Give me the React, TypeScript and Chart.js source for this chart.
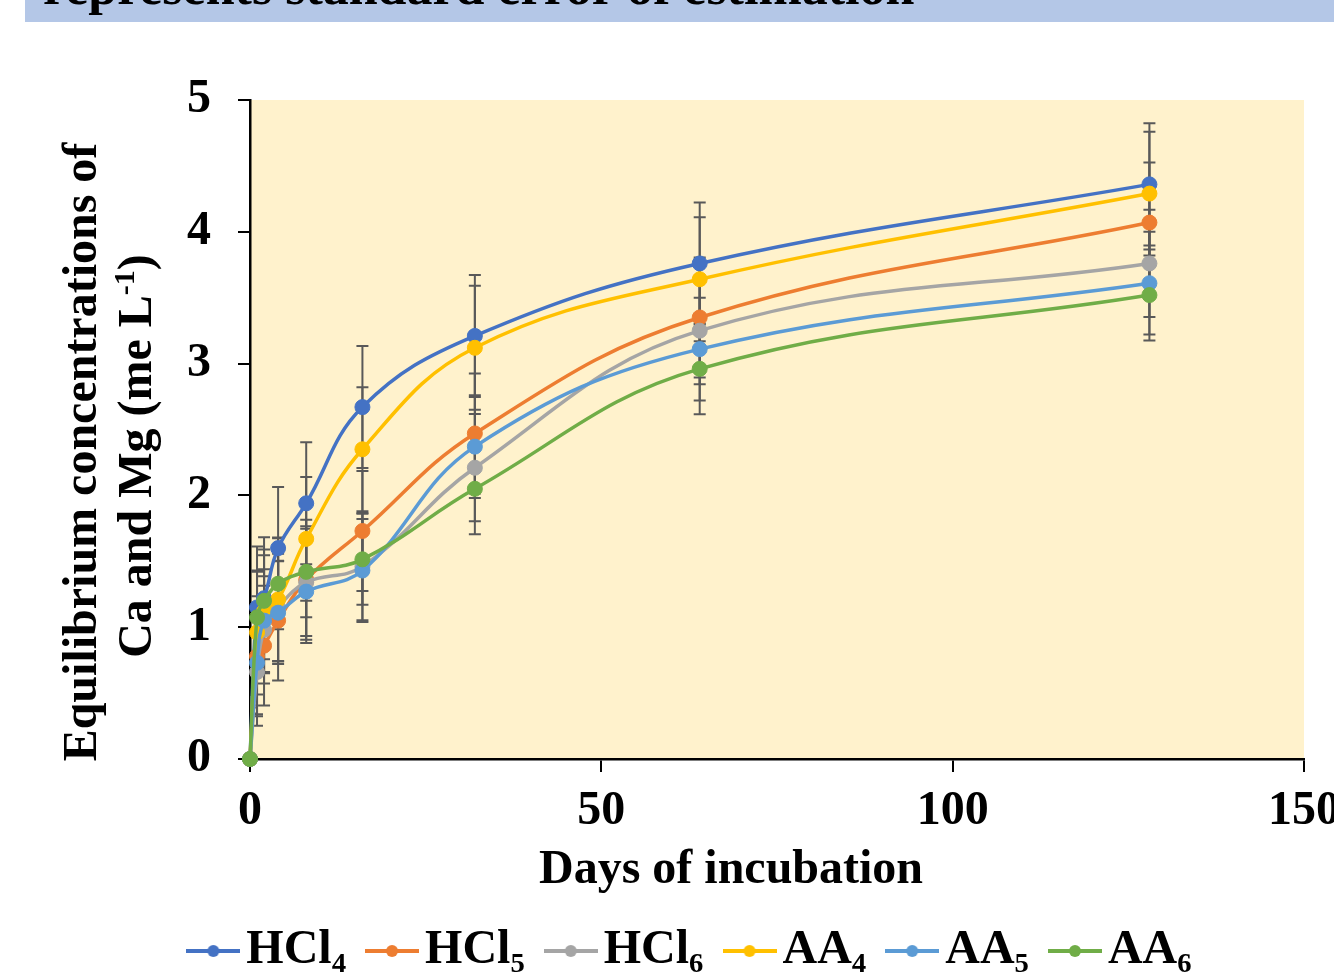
import React, { useEffect, useRef } from "react";
import { Chart, registerables } from "chart.js";

Chart.register(...registerables);

// ---------------- data ----------------
const DAYS = [0, 1, 2, 4, 8, 16, 32, 64, 128];
const SERIES_NAMES = ["HCl₄", "HCl₅", "HCl₆", "AA₄", "AA₅", "AA₆"];
const HCL4 = [0, 1.15, 1.22, 1.6, 1.94, 2.67, 3.21, 3.76, 4.36];
const HCL5 = [0, 0.78, 0.86, 1.05, 1.36, 1.73, 2.47, 3.35, 4.07];
const HCL6 = [0, 0.66, 0.98, 1.15, 1.34, 1.46, 2.21, 3.25, 3.76];
const AA4 = [0, 0.96, 1.12, 1.21, 1.67, 2.35, 3.12, 3.64, 4.29];
const AA5 = [0, 0.73, 1.05, 1.11, 1.27, 1.43, 2.37, 3.11, 3.61];
const AA6 = [0, 1.075, 1.2, 1.33, 1.42, 1.515, 2.05, 2.96, 3.52];
const SERIES_VALUES = [HCL4, HCL5, HCL6, AA4, AA5, AA6];
// standard error (constant per series, as in the source)
const STD_ERRORS = [0.463, 0.455, 0.407, 0.47, 0.39, 0.345];
const COLORS = ["#4472C4", "#ED7D31", "#A5A5A5", "#FFC000", "#5B9BD5", "#70AD47"];
const X_TICKS = [0, 50, 100, 150];
const Y_TICKS = [0, 1, 2, 3, 4, 5];
const X_TITLE = "Days of incubation";
const Y_TITLE_LINE1 = "Equilibrium concentrations of";
const Y_TITLE_LINE2_MAIN = "Ca and Mg (me L";
const Y_TITLE_LINE2_SUP = "-1";
const Y_TITLE_LINE2_END = ")";
const BANNER_TEXT = "represents standard error of estimation";

// ---------------- styling ----------------
const FONT_FAMILY = "'Times New Roman', 'Liberation Serif', Times, serif";
const PLOT_BG = "#FFF2CC";
const ERR_COLOR = "#595959";
const CANVAS_W = 1364;
const CANVAS_H = 990;

function makeLegendImage(color: string): HTMLCanvasElement {
  const c = document.createElement("canvas");
  c.width = 54;
  c.height = 14;
  const g = c.getContext("2d")!;
  g.strokeStyle = color;
  g.lineWidth = 4;
  g.beginPath();
  g.moveTo(0, 7);
  g.lineTo(54, 7);
  g.stroke();
  g.fillStyle = color;
  g.beginPath();
  g.arc(27, 7, 6, 0, Math.PI * 2);
  g.fill();
  return c;
}

const plotBgPlugin = {
  id: "plotBg",
  beforeDraw(chart: any) {
    const { ctx, chartArea } = chart;
    ctx.save();
    ctx.fillStyle = PLOT_BG;
    ctx.fillRect(chartArea.left, chartArea.top, chartArea.right - chartArea.left, chartArea.bottom - chartArea.top);
    ctx.restore();
  },
};

const errorBarPlugin = {
  id: "errorBars",
  beforeDatasetsDraw(chart: any) {
    const { ctx, chartArea } = chart;
    const xs = chart.scales.x;
    const ys = chart.scales.y;
    ctx.save();
    ctx.beginPath();
    ctx.rect(chartArea.left, chartArea.top, chartArea.right - chartArea.left, chartArea.bottom - chartArea.top);
    ctx.clip();
    ctx.strokeStyle = ERR_COLOR;
    ctx.lineWidth = 2;
    chart.data.datasets.forEach((ds: any, i: number) => {
      const err = STD_ERRORS[i];
      ds.data.forEach((pt: any) => {
        const px = xs.getPixelForValue(pt.x);
        const top = ys.getPixelForValue(pt.y + err);
        const bot = ys.getPixelForValue(pt.y - err);
        ctx.beginPath();
        ctx.moveTo(px, top);
        ctx.lineTo(px, bot);
        ctx.moveTo(px - 6, top);
        ctx.lineTo(px + 6, top);
        ctx.moveTo(px - 6, bot);
        ctx.lineTo(px + 6, bot);
        ctx.stroke();
      });
    });
    ctx.restore();
  },
};

const axisTitlePlugin = {
  id: "axisTitles",
  afterDraw(chart: any) {
    const { ctx } = chart;
    ctx.save();
    ctx.fillStyle = "#000";
    ctx.font = `bold 48px ${FONT_FAMILY}`;
    ctx.textBaseline = "alphabetic";
    // x title
    ctx.textAlign = "center";
    ctx.fillText(X_TITLE, 731, 883);

    // y title line 1
    ctx.save();
    ctx.translate(96, 452);
    ctx.rotate(-Math.PI / 2);
    ctx.textAlign = "center";
    ctx.fillText(Y_TITLE_LINE1, 0, 0);
    ctx.restore();

    // y title line 2 with superscript
    ctx.save();
    ctx.translate(151, 456);
    ctx.rotate(-Math.PI / 2);
    ctx.textAlign = "left";
    ctx.font = `bold 48px ${FONT_FAMILY}`;
    const w1 = ctx.measureText(Y_TITLE_LINE2_MAIN).width;
    const w3 = ctx.measureText(Y_TITLE_LINE2_END).width;
    ctx.font = `bold 30px ${FONT_FAMILY}`;
    const w2 = ctx.measureText(Y_TITLE_LINE2_SUP).width;
    const total = w1 + w2 + w3;
    let cx = -total / 2;
    ctx.font = `bold 48px ${FONT_FAMILY}`;
    ctx.fillText(Y_TITLE_LINE2_MAIN, cx, 0);
    cx += w1;
    ctx.font = `bold 30px ${FONT_FAMILY}`;
    ctx.fillText(Y_TITLE_LINE2_SUP, cx, -17);
    cx += w2;
    ctx.font = `bold 48px ${FONT_FAMILY}`;
    ctx.fillText(Y_TITLE_LINE2_END, cx, 0);
    ctx.restore();

    ctx.restore();
  },
};

export default function App() {
  const canvasRef = useRef<HTMLCanvasElement | null>(null);

  useEffect(() => {
    const canvas = canvasRef.current;
    if (!canvas) return;
    const legendImages = COLORS.map((c) => makeLegendImage(c));
    const tickFont = { family: FONT_FAMILY, size: 48, weight: "bold" as const };

    const datasets = SERIES_NAMES.map((name, i) => ({
      label: name,
      data: DAYS.map((d, j) => ({ x: d, y: SERIES_VALUES[i][j] })),
      borderColor: COLORS[i],
      backgroundColor: COLORS[i],
      pointBackgroundColor: COLORS[i],
      pointBorderColor: COLORS[i],
      pointRadius: 7.5,
      pointBorderWidth: 1,
      borderWidth: 3.5,
      tension: 0.4,
      fill: false,
      clip: false,
      order: SERIES_NAMES.length - 1 - i,
    }));

    const chart = new Chart(canvas, {
      type: "line",
      data: { datasets },
      options: {
        animation: false,
        responsive: false,
        events: [],
        layout: { padding: { left: 92, right: 60, top: 100, bottom: 5 } },
        scales: {
          x: {
            type: "linear",
            min: 0,
            max: 150,
            afterBuildTicks: (s: any) => {
              s.ticks = X_TICKS.map((v) => ({ value: v }));
            },
            afterFit: (s: any) => {
              s.height = 131;
            },
            border: { display: true, color: "#000", width: 2.5 },
            grid: { display: true, drawOnChartArea: false, drawTicks: true, tickLength: 13, color: "#000", lineWidth: 2 },
            ticks: { padding: 11, color: "#000", font: tickFont, maxRotation: 0, autoSkip: false },
          },
          y: {
            type: "linear",
            min: 0,
            max: 5,
            afterBuildTicks: (s: any) => {
              s.ticks = Y_TICKS.map((v) => ({ value: v }));
            },
            afterFit: (s: any) => {
              s.width = 158;
            },
            border: { display: true, color: "#000", width: 2.5 },
            grid: { display: true, drawOnChartArea: false, drawTicks: true, tickLength: 12, color: "#000", lineWidth: 2 },
            ticks: { padding: 27, color: "#000", font: tickFont, autoSkip: false },
          },
        },
        plugins: {
          tooltip: { enabled: false },
          title: { display: false },
          legend: {
            display: true,
            position: "bottom",
            align: "center",
            labels: {
              usePointStyle: true,
              pointStyleWidth: 18,
              padding: 37,
              color: "#000",
              font: { family: FONT_FAMILY, size: 48, weight: "bold" },
              generateLabels: (ch: any) =>
                ch.data.datasets.map((ds: any, i: number) => ({
                  text: ds.label,
                  fillStyle: COLORS[i],
                  strokeStyle: COLORS[i],
                  lineWidth: 0,
                  hidden: false,
                  pointStyle: legendImages[i],
                  datasetIndex: i,
                  fontColor: "#000",
                })),
            },
          },
        },
      } as any,
      plugins: [plotBgPlugin, errorBarPlugin, axisTitlePlugin],
    });

    return () => {
      chart.destroy();
    };
  }, []);

  return (
    <div
      style={{
        position: "absolute",
        left: 0,
        top: 0,
        width: 1334,
        height: 972,
        overflow: "hidden",
        background: "#fff",
      }}
    >
      <div
        style={{
          position: "absolute",
          left: 25,
          top: 0,
          width: 1309,
          height: 22,
          background: "#B4C7E7",
          overflow: "hidden",
        }}
      >
        <span
          style={{
            position: "absolute",
            left: 18,
            top: -39,
            fontFamily: FONT_FAMILY,
            fontWeight: "bold",
            fontSize: 52,
            lineHeight: "52px",
            whiteSpace: "nowrap",
            color: "#000",
          }}
        >
          {BANNER_TEXT}
        </span>
      </div>
      <canvas
        ref={canvasRef}
        width={CANVAS_W}
        height={CANVAS_H}
        style={{ position: "absolute", left: 0, top: 0, width: CANVAS_W, height: CANVAS_H }}
      />
    </div>
  );
}
